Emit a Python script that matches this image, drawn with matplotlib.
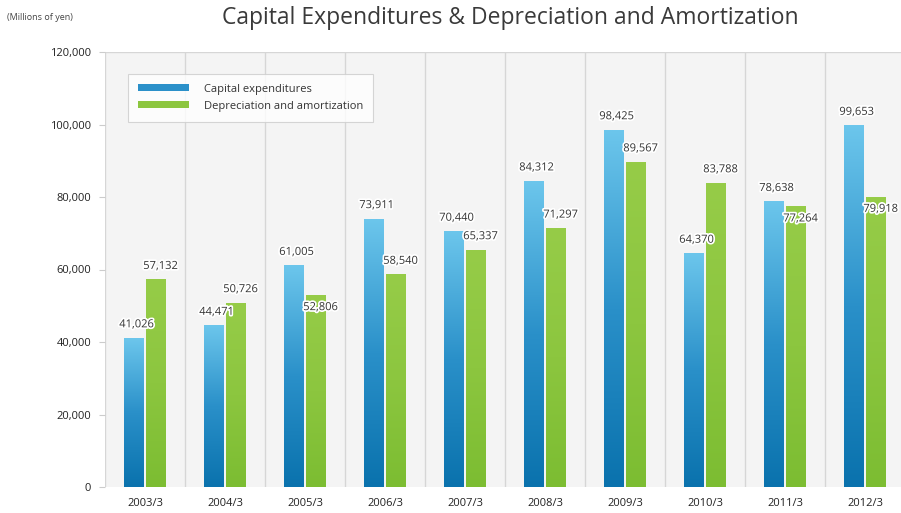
import numpy as np
import matplotlib
matplotlib.use('Agg')
import matplotlib.pyplot as plt
import matplotlib.patheffects as pe
from matplotlib.colors import LinearSegmentedColormap
from matplotlib.patches import Patch

# data
years = ['2003/3', '2004/3', '2005/3', '2006/3', '2007/3', '2008/3', '2009/3', '2010/3', '2011/3', '2012/3']
capex = [41026, 44471, 61005, 73911, 70440, 84312, 98425, 64370, 78638, 99653]
depreciation = [57132, 50726, 52806, 58540, 65337, 71297, 89567, 83788, 77264, 79918]
yticks = [0, 20000, 40000, 60000, 80000, 100000, 120000]

plt.rcParams['font.family'] = ['Open Sans', 'DejaVu Sans']

fig = plt.figure(figsize=(9.01, 5.13), dpi=100)
ax = fig.add_axes([105 / 901, 1 - 487 / 513, 1 - 105 / 901, (487 - 52) / 513])
ax.set_facecolor('#f4f4f4')

x = np.arange(len(years))
w = 0.25
blue_bars = ax.bar(x - w / 2 - 0.012, capex, w, color='none', edgecolor='none', zorder=2)
green_bars = ax.bar(x + w / 2 + 0.012, depreciation, w, color='none', edgecolor='none', zorder=2)

# gradient fills
blue_cmap = LinearSegmentedColormap.from_list('b', ['#0a72ad', '#2a90c9', '#6cc6ec'])
green_cmap = LinearSegmentedColormap.from_list('g', ['#7cbd32', '#8cc63f', '#96cc48'])
grad = np.linspace(0, 1, 256).reshape(-1, 1)
for bars, cmap in [(blue_bars, blue_cmap), (green_bars, green_cmap)]:
    for p in bars:
        x0, y0 = p.get_x(), p.get_y()
        ax.imshow(grad, cmap=cmap, aspect='auto', origin='lower',
                  extent=[x0, x0 + p.get_width(), y0, y0 + p.get_height()], zorder=2)

# value labels
halo = [pe.withStroke(linewidth=2.5, foreground='white')]
for i in range(len(years)):
    ax.text(x[i] - w / 2 + 0.02, capex[i] + 2200, f'{capex[i]:,}', ha='center', va='bottom',
            fontsize=8, color='#333333', path_effects=halo, zorder=4)
    if abs(capex[i] - depreciation[i]) < 5000 or depreciation[i] < capex[i] - 5000 and i in (2, 8, 9):
        # close values: put the label just under the bar top, like the original
        ax.text(x[i] + w / 2 + 0.07, depreciation[i] - 1800, f'{depreciation[i]:,}', ha='center', va='top',
                fontsize=8, color='#333333', path_effects=halo, zorder=4)
    else:
        ax.text(x[i] + w / 2 + 0.07, depreciation[i] + 2200, f'{depreciation[i]:,}', ha='center', va='bottom',
                fontsize=8, color='#333333', path_effects=halo, zorder=4)

ax.set_xlim(-0.5, 9.45)
ax.set_ylim(0, 120000)
ax.set_xticks(x)
ax.set_xticklabels(years, fontsize=8, color='#222222')
ax.set_yticks(yticks)
ax.set_yticklabels([f'{v:,}' for v in yticks], fontsize=8, color='#222222')
ax.tick_params(axis='x', length=0, pad=8)
ax.tick_params(axis='y', length=4, color='#cccccc', pad=6)

# category separators
for b in np.arange(-0.5, 10, 1):
    ax.axvline(b, color='#d6d6d6', lw=1, zorder=1)
ax.axhline(120000, color='#d6d6d6', lw=1, zorder=1)
for s in ax.spines.values():
    s.set_visible(False)

handles = [Patch(facecolor='#2b90c9', edgecolor='none'), Patch(facecolor='#8cc63f', edgecolor='none')]
leg = ax.legend(handles, ['Capital expenditures', 'Depreciation and amortization'],
                loc='upper left', bbox_to_anchor=(17 / 796, 1 - 16 / 435), fontsize=8,
                frameon=True, fancybox=False, handlelength=4.6, handleheight=0.6,
                borderpad=0.9, labelspacing=0.55, handletextpad=1.4)
leg.get_frame().set_edgecolor('#cccccc')
leg.get_frame().set_linewidth(0.8)
for t in leg.get_texts():
    t.set_color('#333333')

fig.text(510 / 901, 1 - 18 / 513, 'Capital Expenditures & Depreciation and Amortization',
         ha='center', va='center', fontsize=16.5, color='#3a3a3a')
fig.text(40 / 901, 1 - 18 / 513, '(Millions of yen)', ha='center', va='center',
         fontsize=6.5, color='#444444')

fig.savefig('out.png', dpi=100)
